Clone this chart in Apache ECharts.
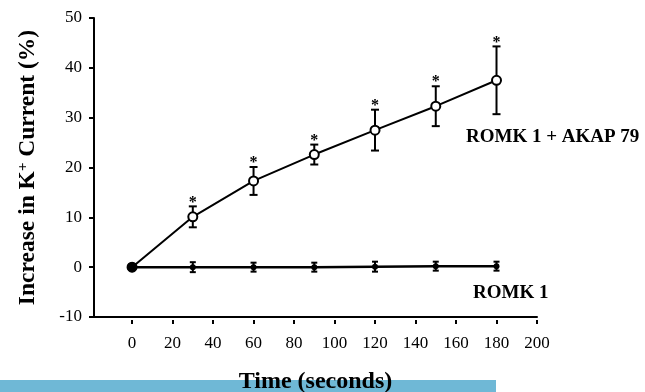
<!DOCTYPE html>
<html>
<head>
<meta charset="utf-8">
<title>Increase in K+ Current</title>
<script src="https://cdn.jsdelivr.net/npm/echarts@6.0.0/dist/echarts.min.js"></script>
<style>
    html, body { margin: 0; padding: 0; background: #fff; }
    #chart { width: 645px; height: 392px; }
</style>
</head>
<body>
<div id="chart"></div>
<script>
    // time points (seconds)
    var timeSec = [0, 30, 60, 90, 120, 150, 180];

    // ROMK 1 + AKAP 79, mean and error bar (%)
    var akapMean = [0, 10.1, 17.3, 22.6, 27.5, 32.3, 37.5];
    var akapErr = [0, 2.1, 2.8, 2.0, 4.1, 4.0, 6.8];
    var akapStar = [0, 1, 1, 1, 1, 1, 1];

    // ROMK 1 alone
    var romkMean = [0, 0, 0, 0, 0.1, 0.2, 0.2];
    var romkErr = [0, 1.0, 0.9, 0.9, 1.0, 0.9, 0.9];
    var romkStar = [0, 0, 0, 0, 0, 0, 0];

    var xTicks = [0, 20, 40, 60, 80, 100, 120, 140, 160, 180, 200];

    var serif = '"Liberation Serif", "Times New Roman", serif';

    function pairs(xs, ys) {
        return xs.map(function (x, i) { return [x, ys[i]]; });
    }
    function errRows(xs, m, e, s) {
        return xs.map(function (x, i) { return [x, m[i], e[i], s[i]]; });
    }

    // error bar + asterisk
    function makeErrRender(capHalf) {
        return function (params, api) {
            var x = api.value(0), m = api.value(1), e = api.value(2), star = api.value(3);
            var top = api.coord([x, m + e]);
            var bot = api.coord([x, m - e]);
            var st = { stroke: '#000', lineWidth: 2 };
            var kids = [];
            if (e > 0) {
                kids.push({ type: 'line', shape: { x1: top[0], y1: top[1], x2: bot[0], y2: bot[1] }, style: st });
                kids.push({ type: 'line', shape: { x1: top[0] - capHalf, y1: top[1], x2: top[0] + capHalf, y2: top[1] }, style: st });
                kids.push({ type: 'line', shape: { x1: bot[0] - capHalf, y1: bot[1], x2: bot[0] + capHalf, y2: bot[1] }, style: st });
            }
            if (star) {
                kids.push({
                    type: 'text',
                    style: { text: '*', x: top[0], y: top[1] + 4, align: 'center', verticalAlign: 'bottom',
                             font: 'bold 16px ' + serif, fill: '#000' }
                });
            }
            return { type: 'group', children: kids };
        };
    }

    var chart = echarts.init(document.getElementById('chart'));

    var option = {
        animation: false,
        backgroundColor: '#fff',
        grid: { left: 94, right: 108, top: 18, bottom: 75 },
        xAxis: [
            {
                type: 'value', min: -18.8, max: 200,
                axisLine: { show: true, onZero: false, lineStyle: { color: '#000', width: 2 } },
                axisTick: { show: false },
                axisLabel: { show: false },
                splitLine: { show: false }
            },
            {
                type: 'value', min: -18.8, max: 200, position: 'bottom', offset: 3,
                axisLine: { show: false, onZero: false },
                axisTick: { show: true, length: 4, customValues: xTicks, lineStyle: { color: '#000', width: 2 } },
                axisLabel: { customValues: xTicks, margin: 15, showMaxLabel: true,
                             color: '#000', fontFamily: serif, fontSize: 17 },
                splitLine: { show: false }
            }
        ],
        yAxis: {
            type: 'value', min: -10, max: 50, interval: 10,
            name: 'Increase in K{sup|+} Current (%)',
            nameLocation: 'middle',
            nameGap: 54,
            nameTextStyle: {
                color: '#000', fontFamily: serif, fontWeight: 'bold', fontSize: 23.5,
                rich: {
                    sup: { color: '#000', fontFamily: serif, fontWeight: 'bold', fontSize: 15, verticalAlign: 'top' }
                }
            },
            axisLine: { show: true, onZero: false, lineStyle: { color: '#000', width: 2 } },
            axisTick: { show: true, length: 5, lineStyle: { color: '#000', width: 2 } },
            axisLabel: { margin: 12, color: '#000', fontFamily: serif, fontSize: 17 },
            splitLine: { show: false }
        },
        series: [
            {
                name: 'ROMK 1 err',
                type: 'custom',
                renderItem: makeErrRender(3),
                data: errRows(timeSec, romkMean, romkErr, romkStar),
                encode: { x: 0, y: 1 },
                z: 1
            },
            {
                name: 'ROMK 1 + AKAP 79 err',
                type: 'custom',
                renderItem: makeErrRender(4),
                data: errRows(timeSec, akapMean, akapErr, akapStar),
                encode: { x: 0, y: 1 },
                z: 1
            },
            {
                name: 'ROMK 1',
                type: 'line',
                data: pairs(timeSec, romkMean),
                symbol: 'circle',
                symbolSize: function (v) { return v[0] === 0 ? 10 : 6; },
                lineStyle: { color: '#000', width: 2.5 },
                itemStyle: { color: '#000', borderColor: '#000', borderWidth: 0 },
                z: 3
            },
            {
                name: 'ROMK 1 + AKAP 79',
                type: 'line',
                data: pairs(timeSec, akapMean).map(function (p, i) {
                    // first point is shared, drawn filled
                    if (i === 0) return { value: p, itemStyle: { color: '#000' } };
                    return p;
                }),
                symbol: 'circle',
                symbolSize: 9,
                showAllSymbol: true,
                lineStyle: { color: '#000', width: 2 },
                itemStyle: { color: '#fff', borderColor: '#000', borderWidth: 2 },
                z: 4
            }
        ],
        graphic: [
            { type: 'rect', left: 0, top: 380, shape: { width: 496, height: 12 }, style: { fill: '#6fb8d6' }, z: 1 },
            { type: 'text', x: 315.5, y: 382, z: 10,
              style: { text: 'Time (seconds)', align: 'center', verticalAlign: 'middle', font: 'bold 24px ' + serif, fill: '#000' } },
            { type: 'text', x: 466, y: 137.5, z: 10,
              style: { text: 'ROMK 1 + AKAP 79', align: 'left', verticalAlign: 'middle', font: 'bold 19px ' + serif, fill: '#000' } },
            { type: 'text', x: 473, y: 293, z: 10,
              style: { text: 'ROMK 1', align: 'left', verticalAlign: 'middle', font: 'bold 19px ' + serif, fill: '#000' } }
        ]
    };

    chart.setOption(option);
</script>
</body>
</html>
